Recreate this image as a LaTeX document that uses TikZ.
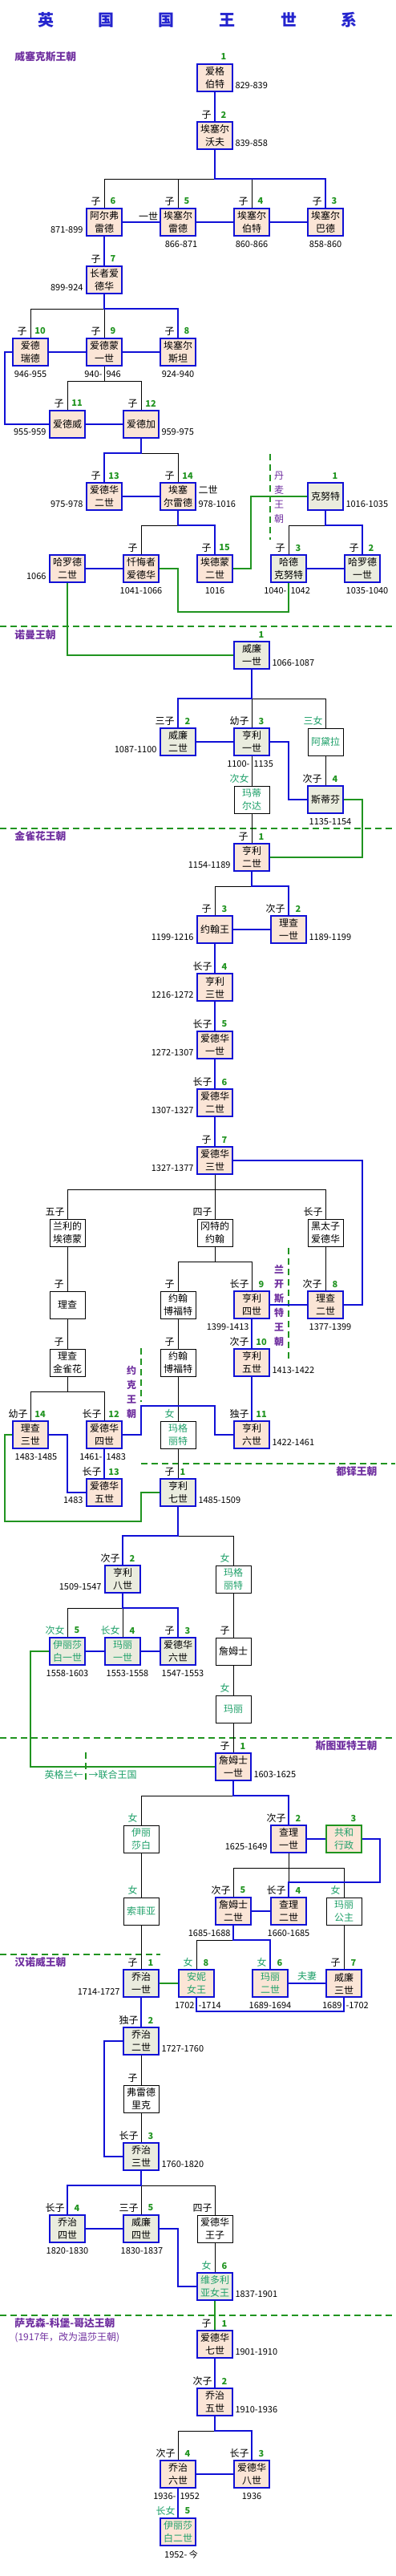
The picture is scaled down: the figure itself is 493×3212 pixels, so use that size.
\documentclass[tikz,border=0pt]{standalone}
\usepackage{fontspec}
\setmainfont{Noto Sans CJK SC}
\usetikzlibrary{calc}

\definecolor{kblue}{RGB}{16,16,214}
\definecolor{kgreen}{RGB}{32,148,32}
\definecolor{kteal}{RGB}{30,160,105}
\definecolor{kpurple}{RGB}{112,48,160}
\definecolor{kbeige}{RGB}{251,229,214}
\definecolor{kgrey}{RGB}{234,236,222}
\definecolor{ktitle}{RGB}{36,36,206}

\tikzset{every picture/.style={line width=0.75pt}}
\tikzset{
  box/.style={rectangle, minimum width=33pt, minimum height=25.5pt, inner sep=0pt, align=center, font=\fontsize{9}{12}\selectfont},
  kingA/.style={box, draw=kblue, line width=1.5pt, fill=kbeige},
  kingB/.style={box, draw=kblue, line width=1.5pt, fill=kgrey},
  kin/.style={box, draw=black, line width=0.75pt, fill=white},
  regency/.style={box, draw=kgreen, line width=2.2pt, fill=kbeige, text=kteal},
  lady/.style={text=kteal},
  heir/.style={draw=kblue, line width=1.5pt},
  tie/.style={draw=kgreen, line width=1.5pt},
  kinline/.style={draw=black, line width=0.75pt},
  border/.style={draw=kgreen, line width=1.5pt, dash pattern=on 6pt off 3.75pt},
  rel/.style={anchor=east, inner sep=0pt, font=\fontsize{9}{12}\selectfont},
  num/.style={inner sep=0pt, text=kgreen, font=\bfseries\fontsize{8.25}{10}\selectfont},
  yr/.style={inner sep=0pt, font=\fontsize{8.25}{10}\selectfont},
  dyn/.style={inner sep=0pt, text=kpurple, font=\bfseries\fontsize{9.6}{12}\selectfont},
  vdyn/.style={inner sep=0pt, text=kpurple, align=center, font=\bfseries\fontsize{9}{13.5}\selectfont},
  titlech/.style={inner sep=0pt, text=ktitle, font=\bfseries\fontsize{15}{18}\selectfont},
}

\begin{document}
\begin{tikzpicture}[x=0.75pt,y=0.75pt,yscale=-1,xscale=1]
\fill[white] (0,0) rectangle (493,3212);
\path[use as bounding box] (0,0) rectangle (493,3212);

% Title
\node[titlech] (ti1) at (57,25) {英};
\node[titlech] (ti2) at (132,25) {国};
\node[titlech] (ti3) at (207,25) {国};
\node[titlech] (ti4) at (283,25) {王};
\node[titlech] (ti5) at (360,25) {世};
\node[titlech] (ti6) at (435,25) {系};

% Dynasty borders
\draw[border] (337,566) -- (337,673);
\draw[border] (0,781) -- (493,781);
\draw[border] (0,1033) -- (493,1033);
\draw[border] (360,1556) -- (360,1698);
\draw[border] (176,1681) -- (176,1748);
\draw[border] (176,1825) -- (493,1825);
\draw[border] (0,2167) -- (493,2167);
\draw[border] (107,2185) -- (107,2222);
\draw[border] (0,2437) -- (200,2437);
\draw[border] (0,2887) -- (493,2887);

% Dynasty names
\node[dyn, anchor=west] (dy-wes) at (18,71) {威塞克斯王朝};
\node[vdyn, font=\fontsize{9}{13.5}\selectfont] (dy-den) at (348,620) {丹\\麦\\王\\朝};
\node[dyn, anchor=west] (dy-nor) at (18,792) {诺曼王朝};
\node[dyn, anchor=west] (dy-pla) at (18,1043) {金雀花王朝};
\node[vdyn] (dy-lan) at (348,1628) {兰\\开\\斯\\特\\王\\朝};
\node[vdyn] (dy-yor) at (164,1736) {约\\克\\王\\朝};
\node[dyn, anchor=east] (dy-tud) at (471,1835) {都铎王朝};
\node[dyn, anchor=east] (dy-stu) at (471,2177) {斯图亚特王朝};
\node[dyn, anchor=west] (dy-han) at (18,2447) {汉诺威王朝};
\node[dyn, anchor=west] (dy-sax) at (18,2897) {萨克森-科堡-哥达王朝};
\node[dyn, anchor=west, font=\fontsize{9}{12}\selectfont] (dy-win) at (18,2915) {(1917年，改为温莎王朝)};
\node[yr, anchor=east, text=kteal, font=\fontsize{9}{12}\selectfont] (eng) at (104,2213) {英格兰←};
\node[yr, anchor=west, text=kteal, font=\fontsize{9}{12}\selectfont] (uk) at (110,2213) {→联合王国};

% Wessex
\node[kingA] (w1) at (268,97) {爱格\\伯特};
\node[kingA] (w2) at (268,169) {埃塞尔\\沃夫};
\node[kingA] (w6) at (130,277) {阿尔弗\\雷德};
\node[kingA] (w5) at (222,277) {埃塞尔\\雷德};
\node[kingA] (w4) at (314,277) {埃塞尔\\伯特};
\node[kingA] (w3) at (406,277) {埃塞尔\\巴德};
\node[kingA] (w7) at (130,349) {长者爱\\德华};
\node[kingA] (w10) at (38,439) {爱德\\瑞德};
\node[kingA] (w9) at (130,439) {爱德蒙\\一世};
\node[kingA] (w8) at (222,439) {埃塞尔\\斯坦};
\node[kingA] (w11) at (84,529) {爱德威};
\node[kingA] (w12) at (176,529) {爱德加};
\node[kingA] (w13) at (130,619) {爱德华\\二世};
\node[kingA] (w14) at (222,619) {埃塞\\尔雷德};
\node[kingA] (hr2) at (84,709) {哈罗德\\二世};
\node[kingA] (ed) at (176,709) {忏悔者\\爱德华};
\node[kingA] (w15) at (268,709) {埃德蒙\\二世};
% Denmark
\node[kingB] (d1) at (406,619) {克努特};
\node[kingB] (d3) at (360,709) {哈德\\克努特};
\node[kingB] (d2) at (452,709) {哈罗德\\一世};
% Normandy
\node[kingB] (n1) at (314,817) {威廉\\一世};
\node[kingB] (n2) at (222,925) {威廉\\二世};
\node[kingB] (n3) at (314,925) {亨利\\一世};
\node[kin, lady] (adela) at (406,925) {阿黛拉};
\node[kingB] (n4) at (406,997) {斯蒂芬};
\node[kin, lady] (mat) at (314,997) {玛蒂\\尔达};
% Plantagenet
\node[kingA] (p1) at (314,1069) {亨利\\二世};
\node[kingA] (p3) at (268,1159) {约翰王};
\node[kingA] (p2) at (360,1159) {理查\\一世};
\node[kingA] (p4) at (268,1231) {亨利\\三世};
\node[kingA] (p5) at (268,1303) {爱德华\\一世};
\node[kingA] (p6) at (268,1375) {爱德华\\二世};
\node[kingA] (p7) at (268,1447) {爱德华\\三世};
\node[kin] (edmL) at (84,1537) {兰利的\\埃德蒙};
\node[kin] (jG) at (268,1537) {冈特的\\约翰};
\node[kin] (bp) at (406,1537) {黑太子\\爱德华};
\node[kin] (ri) at (84,1627) {理查};
\node[kin] (jb1) at (222,1627) {约翰\\博福特};
\node[kingA] (p9) at (314,1627) {亨利\\四世};
\node[kingA] (p8) at (406,1627) {理查\\二世};
\node[kin] (rp) at (84,1699) {理查\\金雀花};
\node[kin] (jb2) at (222,1699) {约翰\\博福特};
\node[kingA] (p10) at (314,1699) {亨利\\五世};
\node[kingA] (p14) at (38,1789) {理查\\三世};
\node[kingA] (p12) at (130,1789) {爱德华\\四世};
\node[kin, lady] (mg) at (222,1789) {玛格\\丽特};
\node[kingA] (p11) at (314,1789) {亨利\\六世};
\node[kingA] (p13) at (130,1861) {爱德华\\五世};
% Tudor
\node[kingB] (t1) at (222,1861) {亨利\\七世};
\node[kingB] (t2) at (153,1969) {亨利\\八世};
\node[kin, lady] (mg2) at (291,1969) {玛格\\丽特};
\node[kingB, lady] (t5) at (84,2059) {伊丽莎\\白一世};
\node[kingB, lady] (t4) at (153,2059) {玛丽\\一世};
\node[kingB] (t3) at (222,2059) {爱德华\\六世};
\node[kin] (jm) at (291,2059) {詹姆士};
\node[kin, lady] (ma) at (291,2131) {玛丽};
% Stuart
\node[kingA] (s1) at (291,2203) {詹姆士\\一世};
\node[kin, lady] (el) at (176,2293) {伊丽\\莎白};
\node[kingA] (s2) at (360,2293) {查理\\一世};
\node[regency] (s3) at (429,2293) {共和\\行政};
\node[kin, lady] (so) at (176,2383) {索菲亚};
\node[kingA] (s5) at (291,2383) {詹姆士\\二世};
\node[kingA] (s4) at (360,2383) {查理\\二世};
\node[kin, lady] (mp) at (429,2383) {玛丽\\公主};
\node[kingA, lady] (s8) at (245,2473) {安妮\\女王};
\node[kingA, lady] (s6) at (337,2473) {玛丽\\二世};
\node[kingA] (s7) at (429,2473) {威廉\\三世};
% Hanover
\node[kingB] (h1) at (176,2473) {乔治\\一世};
\node[kingB] (h2) at (176,2545) {乔治\\二世};
\node[kin] (fr) at (176,2617) {弗雷德\\里克};
\node[kingB] (h3) at (176,2689) {乔治\\三世};
\node[kingB] (h4) at (84,2779) {乔治\\四世};
\node[kingB] (h5) at (176,2779) {威廉\\四世};
\node[kin] (ew) at (268,2779) {爱德华\\王子};
\node[kingB, lady] (h6) at (268,2851) {维多利\\亚女王};
% Saxe-Coburg-Gotha
\node[kingA] (c1) at (268,2923) {爱德华\\七世};
\node[kingA] (c2) at (268,2995) {乔治\\五世};
\node[kingA] (c4) at (222,3085) {乔治\\六世};
\node[kingA] (c3) at (314,3085) {爱德华\\八世};
\node[kingA, lady] (c5) at (222,3157) {伊丽莎\\白二世};

% Wessex lines
\draw[heir] (w1.south) -- (w2.north);
\draw[kinline] (w6.north) -- ++(0,-36) -| (w3.north);
\draw[kinline] (w5.north) -- ++(0,-36);
\draw[kinline] (w4.north) -- ++(0,-36);
\draw[heir] (w3.north) -- ++(0,-36) -| (w2.south);
\draw[heir] (w3.west) -- (w4.east);
\draw[heir] (w4.west) -- (w5.east);
\draw[heir] (w5.west) -- (w6.east);
\draw[heir] (w6.south) -- (w7.north);
\draw[kinline] (w10.north) -- ++(0,-36) -| (w8.north);
\draw[kinline] (w7.south) -- (w9.north);
\draw[heir] (w8.north) -- ++(0,-36) -| (w7.south);
\draw[heir] (w8.west) -- (w9.east);
\draw[heir] (w9.west) -- (w10.east);
\draw[heir] (w10.west) -- ++(-9,0) |- (w11.west);
\draw[kinline] (w11.north) -- ++(0,-36) -| (w12.north);
\draw[kinline] (w11.north) -- ++(0,-36) -| (w9.south);
\draw[heir] (w11.east) -- (w12.west);
\draw[kinline] (w13.north) -- ++(0,-36) -| (w14.north);
\draw[heir] (w13.north) -- ++(0,-36) -| (w12.south);
\draw[heir] (w13.east) -- (w14.west);
\draw[kinline] (ed.north) -- ++(0,-36) -| (w15.north);
\draw[heir] (w15.north) -- ++(0,-36) -| (w14.south);
\draw[heir] (hr2.east) -- (ed.west);
\draw[tie] (w15.east) -- ++(22,0) |- (d1.west);
\draw[kinline] (d3.north) -- ++(0,-36) -| (d2.north);
\draw[heir] (d2.north) -- ++(0,-36) -| (d1.south);
\draw[heir] (d3.east) -- (d2.west);
\draw[tie] (ed.east) -- ++(23,0) -- ++(0,54) -| (d3.south);
\draw[tie] (hr2.south) |- (n1.west);

% Normandy lines
\draw[kinline] (n3.north) -- ++(0,-36) -| (adela.north);
\draw[heir] (n2.north) -- ++(0,-36) -| (n1.south);
\draw[heir] (n2.east) -- (n3.west);
\draw[heir] (n3.east) -- ++(23,0) |- (n4.west);
\draw[kinline] (adela.south) -- (n4.north);
\draw[kinline] (n3.south) -- (mat.north);
\draw[kinline] (mat.south) -- (p1.north);
\draw[tie] (n4.east) -- ++(23,0) |- (p1.east);

% Plantagenet lines
\draw[kinline] (p3.north) -- ++(0,-36) -| (p2.north);
\draw[heir] (p2.north) -- ++(0,-36) -| (p1.south);
\draw[heir] (p3.east) -- (p2.west);
\draw[heir] (p3.south) -- (p4.north);
\draw[heir] (p4.south) -- (p5.north);
\draw[heir] (p5.south) -- (p6.north);
\draw[heir] (p6.south) -- (p7.north);
\draw[kinline] (p7.south) -- (jG.north);
\draw[kinline] (edmL.north) -- ++(0,-36) -| (bp.north);
\draw[heir] (p7.east) -- ++(161,0) |- (p8.east);
\draw[kinline] (bp.south) -- (p8.north);
\draw[kinline] (jb1.north) -- ++(0,-36) -| (p9.north);
\draw[kinline] (jb1.north) -- ++(0,-36) -| (jG.south);
\draw[heir] (p8.west) -- (p9.east);
\draw[kinline] (edmL.south) -- (ri.north);
\draw[kinline] (ri.south) -- (rp.north);
\draw[kinline] (jb1.south) -- (jb2.north);
\draw[kinline] (jb2.south) -- (mg.north);
\draw[kinline] (mg.south) -- (t1.north);
\draw[heir] (p9.south) -- (p10.north);
\draw[heir] (p10.south) -- (p11.north);
\draw[kinline] (p14.north) -- ++(0,-36) -| (p12.north);
\draw[kinline] (p14.north) -- ++(0,-36) -| (rp.south);
\draw[heir] (p12.east) -- ++(23,0) -- ++(0,-36) -- ++(92,0) |- (p11.west);
\draw[heir] (p12.south) -- (p13.north);
\draw[heir] (p14.east) -- ++(23,0) |- (p13.west);
\draw[tie] (p14.west) -- ++(-9,0) -- ++(0,108) -- ++(170,0) |- (t1.west);

% Tudor lines
\draw[kinline] (mg2.north) -- ++(0,-36) -| (t1.south);
\draw[heir] (t2.north) -- ++(0,-36) -| (t1.south);
\draw[kinline] (t5.north) -- ++(0,-36) -| (t3.north);
\draw[kinline] (t2.south) -- (t4.north);
\draw[heir] (t3.north) -- ++(0,-36) -| (t2.south);
\draw[heir] (t3.west) -- (t4.east);
\draw[heir] (t4.west) -- (t5.east);
\draw[tie] (t5.west) -- ++(-23,0) |- (s1.west);
\draw[kinline] (mg2.south) -- (jm.north);
\draw[kinline] (jm.south) -- (ma.north);
\draw[kinline] (ma.south) -- (s1.north);

% Stuart lines
\draw[kinline] (el.north) -- ++(0,-36) -| (s1.south);
\draw[heir] (s2.north) -- ++(0,-36) -| (s1.south);
\draw[heir] (s2.east) -- (s3.west);
\draw[kinline] (s5.north) -- ++(0,-36) -| (mp.north);
\draw[kinline] (s2.south) -- (s4.north);
\draw[heir] (s3.east) -- ++(22,0) -- ++(0,54) -| (s4.north);
\draw[heir] (s4.west) -- (s5.east);
\draw[kinline] (el.south) -- (so.north);
\draw[kinline] (so.south) -- (h1.north);
\draw[kinline] (s8.north) -- ++(0,-36) -| (s5.south);
\draw[heir] (s6.north) -- ++(0,-36) -| (s5.south);
\draw[kinline] (mp.south) -- (s7.north);
\draw[heir] (s6.east) -- (s7.west);
\draw[heir] (s7.south) -- ++(0,17) -| (s8.south);
\draw[tie] (h1.east) -- (s8.west);
\node[yr, text=kteal, font=\fontsize{9}{12}\selectfont] (spouse) at (383,2464) {夫妻};

% Hanover lines
\draw[heir] (h1.south) -- (h2.north);
\draw[heir] (h2.west) -- ++(-23,0) |- (h3.west);
\draw[kinline] (h2.south) -- (fr.north);
\draw[kinline] (fr.south) -- (h3.north);
\draw[kinline] (h5.north) -- ++(0,-36) -| (ew.north);
\draw[kinline] (h3.south) -- (h5.north);
\draw[heir] (h4.north) -- ++(0,-36) -| (h3.south);
\draw[heir] (h4.east) -- (h5.west);
\draw[heir] (h5.east) -- ++(23,0) |- (h6.west);
\draw[kinline] (ew.south) -- (h6.north);
\draw[tie] (h6.south) -- (c1.north);

% Saxe-Coburg-Gotha lines
\draw[heir] (c1.south) -- (c2.north);
\draw[kinline] (c4.north) -- ++(0,-36) -| (c2.south);
\draw[heir] (c3.north) -- ++(0,-36) -| (c2.south);
\draw[heir] (c3.west) -- (c4.east);
\draw[heir] (c4.south) -- (c5.north);

% Outside name parts
\node[box, minimum width=0pt, minimum height=0pt] (w5x) at ($(w5.center)+(-37,-7)$) {一世};
\node[box, minimum width=0pt, minimum height=0pt, anchor=west] (w14x) at ($(w14.center)+(25,-8)$) {二世};

% Relations and numbers
\node[num] (n-w1) at ($(w1.center)+(11,-26)$) {1};
\node[rel] (r-w2) at ($(w2.center)+(-4,-26)$) {子};
\node[num] (n-w2) at ($(w2.center)+(11,-26)$) {2};
\node[rel] (r-w6) at ($(w6.center)+(-4,-26)$) {子};
\node[num] (n-w6) at ($(w6.center)+(11,-26)$) {6};
\node[rel] (r-w5) at ($(w5.center)+(-4,-26)$) {子};
\node[num] (n-w5) at ($(w5.center)+(11,-26)$) {5};
\node[rel] (r-w4) at ($(w4.center)+(-4,-26)$) {子};
\node[num] (n-w4) at ($(w4.center)+(11,-26)$) {4};
\node[rel] (r-w3) at ($(w3.center)+(-4,-26)$) {子};
\node[num] (n-w3) at ($(w3.center)+(11,-26)$) {3};
\node[rel] (r-w7) at ($(w7.center)+(-4,-26)$) {子};
\node[num] (n-w7) at ($(w7.center)+(11,-26)$) {7};
\node[rel] (r-w10) at ($(w10.center)+(-4,-26)$) {子};
\node[num] (n-w10) at ($(w10.center)+(12,-26)$) {10};
\node[rel] (r-w9) at ($(w9.center)+(-4,-26)$) {子};
\node[num] (n-w9) at ($(w9.center)+(11,-26)$) {9};
\node[rel] (r-w8) at ($(w8.center)+(-4,-26)$) {子};
\node[num] (n-w8) at ($(w8.center)+(11,-26)$) {8};
\node[rel] (r-w11) at ($(w11.center)+(-4,-26)$) {子};
\node[num] (n-w11) at ($(w11.center)+(12,-26)$) {11};
\node[rel] (r-w12) at ($(w12.center)+(-4,-26)$) {子};
\node[num] (n-w12) at ($(w12.center)+(12,-26)$) {12};
\node[rel] (r-w13) at ($(w13.center)+(-4,-26)$) {子};
\node[num] (n-w13) at ($(w13.center)+(12,-26)$) {13};
\node[rel] (r-w14) at ($(w14.center)+(-4,-26)$) {子};
\node[num] (n-w14) at ($(w14.center)+(12,-26)$) {14};
\node[rel] (r-ed) at ($(ed.center)+(-4,-26)$) {子};
\node[rel] (r-w15) at ($(w15.center)+(-4,-26)$) {子};
\node[num] (n-w15) at ($(w15.center)+(12,-26)$) {15};
\node[num] (n-d1) at ($(d1.center)+(12,-26)$) {1};
\node[rel] (r-d3) at ($(d3.center)+(-4,-26)$) {子};
\node[num] (n-d3) at ($(d3.center)+(12,-26)$) {3};
\node[rel] (r-d2) at ($(d2.center)+(-4,-26)$) {子};
\node[num] (n-d2) at ($(d2.center)+(11,-26)$) {2};
\node[num] (n-n1) at ($(n1.center)+(12,-26)$) {1};
\node[rel] (r-n2) at ($(n2.center)+(-4,-26)$) {三子};
\node[num] (n-n2) at ($(n2.center)+(12,-26)$) {2};
\node[rel] (r-n3) at ($(n3.center)+(-3,-26)$) {幼子};
\node[num] (n-n3) at ($(n3.center)+(12,-26)$) {3};
\node[rel, lady] (r-adela) at ($(adela.center)+(-3,-26)$) {三女};
\node[rel] (r-n4) at ($(n4.center)+(-4,-26)$) {次子};
\node[num] (n-n4) at ($(n4.center)+(12,-26)$) {4};
\node[rel, lady] (r-mat) at ($(mat.center)+(-3,-26)$) {次女};
\node[rel] (r-p1) at ($(p1.center)+(-4,-26)$) {子};
\node[num] (n-p1) at ($(p1.center)+(12,-26)$) {1};
\node[rel] (r-p3) at ($(p3.center)+(-4,-26)$) {子};
\node[num] (n-p3) at ($(p3.center)+(12,-26)$) {3};
\node[rel] (r-p2) at ($(p2.center)+(-4,-26)$) {次子};
\node[num] (n-p2) at ($(p2.center)+(12,-26)$) {2};
\node[rel] (r-p4) at ($(p4.center)+(-3,-26)$) {长子};
\node[num] (n-p4) at ($(p4.center)+(12,-26)$) {4};
\node[rel] (r-p5) at ($(p5.center)+(-3,-26)$) {长子};
\node[num] (n-p5) at ($(p5.center)+(12,-26)$) {5};
\node[rel] (r-p6) at ($(p6.center)+(-3,-26)$) {长子};
\node[num] (n-p6) at ($(p6.center)+(12,-26)$) {6};
\node[rel] (r-p7) at ($(p7.center)+(-4,-26)$) {子};
\node[num] (n-p7) at ($(p7.center)+(12,-26)$) {7};
\node[rel] (r-edmL) at ($(edmL.center)+(-3,-26)$) {五子};
\node[rel] (r-jG) at ($(jG.center)+(-3,-26)$) {四子};
\node[rel] (r-bp) at ($(bp.center)+(-3,-26)$) {长子};
\node[rel] (r-ri) at ($(ri.center)+(-4,-26)$) {子};
\node[rel] (r-jb1) at ($(jb1.center)+(-4,-26)$) {子};
\node[rel] (r-p9) at ($(p9.center)+(-3,-26)$) {长子};
\node[num] (n-p9) at ($(p9.center)+(12,-26)$) {9};
\node[rel] (r-p8) at ($(p8.center)+(-4,-26)$) {次子};
\node[num] (n-p8) at ($(p8.center)+(12,-26)$) {8};
\node[rel] (r-rp) at ($(rp.center)+(-4,-26)$) {子};
\node[rel] (r-jb2) at ($(jb2.center)+(-4,-26)$) {子};
\node[rel] (r-p10) at ($(p10.center)+(-3,-26)$) {次子};
\node[num] (n-p10) at ($(p10.center)+(12,-26)$) {10};
\node[rel] (r-p14) at ($(p14.center)+(-3,-26)$) {幼子};
\node[num] (n-p14) at ($(p14.center)+(12,-26)$) {14};
\node[rel] (r-p12) at ($(p12.center)+(-3,-26)$) {长子};
\node[num] (n-p12) at ($(p12.center)+(12,-26)$) {12};
\node[rel, lady] (r-mg) at ($(mg.center)+(-4,-26)$) {女};
\node[rel] (r-p11) at ($(p11.center)+(-3,-26)$) {独子};
\node[num] (n-p11) at ($(p11.center)+(12,-26)$) {11};
\node[rel] (r-p13) at ($(p13.center)+(-3,-26)$) {长子};
\node[num] (n-p13) at ($(p13.center)+(12,-26)$) {13};
\node[rel] (r-t1) at ($(t1.center)+(-4,-26)$) {子};
\node[num] (n-t1) at ($(t1.center)+(6,-26)$) {1};
\node[rel] (r-t2) at ($(t2.center)+(-3,-26)$) {次子};
\node[num] (n-t2) at ($(t2.center)+(12,-26)$) {2};
\node[rel, lady] (r-mg2) at ($(mg2.center)+(-4,-26)$) {女};
\node[rel, lady] (r-t5) at ($(t5.center)+(-3,-26)$) {次女};
\node[num] (n-t5) at ($(t5.center)+(12,-26)$) {5};
\node[rel, lady] (r-t4) at ($(t4.center)+(-3,-26)$) {长女};
\node[num] (n-t4) at ($(t4.center)+(12,-26)$) {4};
\node[rel] (r-t3) at ($(t3.center)+(-4,-26)$) {子};
\node[num] (n-t3) at ($(t3.center)+(12,-26)$) {3};
\node[rel] (r-jm) at ($(jm.center)+(-4,-26)$) {子};
\node[rel, lady] (r-ma) at ($(ma.center)+(-4,-26)$) {女};
\node[rel] (r-s1) at ($(s1.center)+(-4,-26)$) {子};
\node[num] (n-s1) at ($(s1.center)+(12,-26)$) {1};
\node[rel, lady] (r-el) at ($(el.center)+(-4,-26)$) {女};
\node[rel] (r-s2) at ($(s2.center)+(-3,-26)$) {次子};
\node[num] (n-s2) at ($(s2.center)+(12,-26)$) {2};
\node[num] (n-s3) at ($(s3.center)+(12,-26)$) {3};
\node[rel, lady] (r-so) at ($(so.center)+(-4,-26)$) {女};
\node[rel] (r-s5) at ($(s5.center)+(-3,-26)$) {次子};
\node[num] (n-s5) at ($(s5.center)+(12,-26)$) {5};
\node[rel] (r-s4) at ($(s4.center)+(-3,-26)$) {长子};
\node[num] (n-s4) at ($(s4.center)+(12,-26)$) {4};
\node[rel, lady] (r-mp) at ($(mp.center)+(-4,-26)$) {女};
\node[rel] (r-h1) at ($(h1.center)+(-4,-26)$) {子};
\node[num] (n-h1) at ($(h1.center)+(12,-26)$) {1};
\node[rel, lady] (r-s8) at ($(s8.center)+(-4,-26)$) {女};
\node[num] (n-s8) at ($(s8.center)+(12,-26)$) {8};
\node[rel, lady] (r-s6) at ($(s6.center)+(-4,-26)$) {女};
\node[num] (n-s6) at ($(s6.center)+(12,-26)$) {6};
\node[rel] (r-s7) at ($(s7.center)+(-4,-26)$) {子};
\node[num] (n-s7) at ($(s7.center)+(12,-26)$) {7};
\node[rel] (r-h2) at ($(h2.center)+(-3,-26)$) {独子};
\node[num] (n-h2) at ($(h2.center)+(12,-26)$) {2};
\node[rel] (r-fr) at ($(fr.center)+(-4,-26)$) {子};
\node[rel] (r-h3) at ($(h3.center)+(-3,-26)$) {长子};
\node[num] (n-h3) at ($(h3.center)+(12,-26)$) {3};
\node[rel] (r-h4) at ($(h4.center)+(-3,-26)$) {长子};
\node[num] (n-h4) at ($(h4.center)+(12,-26)$) {4};
\node[rel] (r-h5) at ($(h5.center)+(-3,-26)$) {三子};
\node[num] (n-h5) at ($(h5.center)+(12,-26)$) {5};
\node[rel] (r-ew) at ($(ew.center)+(-3,-26)$) {四子};
\node[rel, lady] (r-h6) at ($(h6.center)+(-4,-26)$) {女};
\node[num] (n-h6) at ($(h6.center)+(12,-26)$) {6};
\node[rel] (r-c1) at ($(c1.center)+(-4,-26)$) {子};
\node[num] (n-c1) at ($(c1.center)+(12,-26)$) {1};
\node[rel] (r-c2) at ($(c2.center)+(-3,-26)$) {次子};
\node[num] (n-c2) at ($(c2.center)+(12,-26)$) {2};
\node[rel] (r-c4) at ($(c4.center)+(-3,-26)$) {次子};
\node[num] (n-c4) at ($(c4.center)+(12,-26)$) {4};
\node[rel] (r-c3) at ($(c3.center)+(-3,-26)$) {长子};
\node[num] (n-c3) at ($(c3.center)+(12,-26)$) {3};
\node[rel, lady] (r-c5) at ($(c5.center)+(-3,-26)$) {长女};
\node[num] (n-c5) at ($(c5.center)+(12,-26)$) {5};

% Reigns
\node[yr, anchor=west] (y-w1) at ($(w1.center)+(25,10)$) {829-839};
\node[yr, anchor=west] (y-w2) at ($(w2.center)+(25,10)$) {839-858};
\node[yr, anchor=east] (y-w6) at ($(w6.center)+(-26,10)$) {871-899};
\node[yr] (y-w5) at ($(w5.center)+(4,28)$) {866-871};
\node[yr] (y-w4) at ($(w4.center)+(0,28)$) {860-866};
\node[yr] (y-w3) at ($(w3.center)+(0,28)$) {858-860};
\node[yr, anchor=east] (y-w7) at ($(w7.center)+(-26,10)$) {899-924};
\node[yr] (y-w10) at ($(w10.center)+(0,28)$) {946-955};
\node[yr, anchor=east] (y-w9a) at ($(w9.center)+(-2,28)$) {940-};
\node[yr, anchor=west] (y-w9b) at ($(w9.center)+(2,28)$) {946};
\node[yr] (y-w8) at ($(w8.center)+(0,28)$) {924-940};
\node[yr, anchor=east] (y-w11) at ($(w11.center)+(-26,10)$) {955-959};
\node[yr, anchor=west] (y-w12) at ($(w12.center)+(25,10)$) {959-975};
\node[yr, anchor=east] (y-w13) at ($(w13.center)+(-26,10)$) {975-978};
\node[yr, anchor=west] (y-w14) at ($(w14.center)+(25,10)$) {978-1016};
\node[yr, anchor=east] (y-hr2) at ($(hr2.center)+(-26,10)$) {1066};
\node[yr] (y-ed) at ($(ed.center)+(0,28)$) {1041-1066};
\node[yr] (y-w15) at ($(w15.center)+(0,28)$) {1016};
\node[yr, anchor=west] (y-d1) at ($(d1.center)+(25,10)$) {1016-1035};
\node[yr, anchor=east] (y-d3a) at ($(d3.center)+(-2,28)$) {1040-};
\node[yr, anchor=west] (y-d3b) at ($(d3.center)+(2,28)$) {1042};
\node[yr] (y-d2) at ($(d2.center)+(6,28)$) {1035-1040};
\node[yr, anchor=west] (y-n1) at ($(n1.center)+(25,10)$) {1066-1087};
\node[yr, anchor=east] (y-n2) at ($(n2.center)+(-26,10)$) {1087-1100};
\node[yr, anchor=east] (y-n3a) at ($(n3.center)+(-2,28)$) {1100-};
\node[yr, anchor=west] (y-n3b) at ($(n3.center)+(2,28)$) {1135};
\node[yr] (y-n4) at ($(n4.center)+(6,28)$) {1135-1154};
\node[yr, anchor=east] (y-p1) at ($(p1.center)+(-26,10)$) {1154-1189};
\node[yr, anchor=east] (y-p3) at ($(p3.center)+(-26,10)$) {1199-1216};
\node[yr, anchor=west] (y-p2) at ($(p2.center)+(25,10)$) {1189-1199};
\node[yr, anchor=east] (y-p4) at ($(p4.center)+(-26,10)$) {1216-1272};
\node[yr, anchor=east] (y-p5) at ($(p5.center)+(-26,10)$) {1272-1307};
\node[yr, anchor=east] (y-p6) at ($(p6.center)+(-26,10)$) {1307-1327};
\node[yr, anchor=east] (y-p7) at ($(p7.center)+(-26,10)$) {1327-1377};
\node[yr, anchor=east] (y-p9) at ($(p9.center)+(-3,28)$) {1399-1413};
\node[yr] (y-p8) at ($(p8.center)+(6,28)$) {1377-1399};
\node[yr, anchor=west] (y-p10) at ($(p10.center)+(25,10)$) {1413-1422};
\node[yr, anchor=west] (y-p11) at ($(p11.center)+(25,10)$) {1422-1461};
\node[yr] (y-p14) at ($(p14.center)+(7,28)$) {1483-1485};
\node[yr, anchor=east] (y-p12a) at ($(p12.center)+(-2,28)$) {1461-};
\node[yr, anchor=west] (y-p12b) at ($(p12.center)+(2,28)$) {1483};
\node[yr, anchor=east] (y-p13) at ($(p13.center)+(-26,10)$) {1483};
\node[yr, anchor=west] (y-t1) at ($(t1.center)+(25,10)$) {1485-1509};
\node[yr, anchor=east] (y-t2) at ($(t2.center)+(-26,10)$) {1509-1547};
\node[yr] (y-t5) at ($(t5.center)+(0,28)$) {1558-1603};
\node[yr] (y-t4) at ($(t4.center)+(6,28)$) {1553-1558};
\node[yr] (y-t3) at ($(t3.center)+(6,28)$) {1547-1553};
\node[yr, anchor=west] (y-s1) at ($(s1.center)+(25,10)$) {1603-1625};
\node[yr, anchor=east] (y-s2) at ($(s2.center)+(-26,10)$) {1625-1649};
\node[yr, anchor=east] (y-s5) at ($(s5.center)+(-3,28)$) {1685-1688};
\node[yr] (y-s4) at ($(s4.center)+(0,28)$) {1660-1685};
\node[yr, anchor=east] (y-s8a) at ($(s8.center)+(-2,28)$) {1702};
\node[yr, anchor=west] (y-s8b) at ($(s8.center)+(2,28)$) {-1714};
\node[yr] (y-s6) at ($(s6.center)+(0,28)$) {1689-1694};
\node[yr, anchor=east] (y-s7a) at ($(s7.center)+(-2,28)$) {1689};
\node[yr, anchor=west] (y-s7b) at ($(s7.center)+(2,28)$) {-1702};
\node[yr, anchor=east] (y-h1) at ($(h1.center)+(-26,10)$) {1714-1727};
\node[yr, anchor=west] (y-h2) at ($(h2.center)+(25,10)$) {1727-1760};
\node[yr, anchor=west] (y-h3) at ($(h3.center)+(25,10)$) {1760-1820};
\node[yr] (y-h4) at ($(h4.center)+(0,28)$) {1820-1830};
\node[yr] (y-h5) at ($(h5.center)+(1,28)$) {1830-1837};
\node[yr, anchor=west] (y-h6) at ($(h6.center)+(25,10)$) {1837-1901};
\node[yr, anchor=west] (y-c1) at ($(c1.center)+(25,10)$) {1901-1910};
\node[yr, anchor=west] (y-c2) at ($(c2.center)+(25,10)$) {1910-1936};
\node[yr, anchor=east] (y-c4a) at ($(c4.center)+(-2,28)$) {1936-};
\node[yr, anchor=west] (y-c4b) at ($(c4.center)+(2,28)$) {1952};
\node[yr] (y-c3) at ($(c3.center)+(0,28)$) {1936};
\node[yr] (y-c5) at ($(c5.center)+(4,28)$) {1952- 今};

\end{tikzpicture}
\end{document}
